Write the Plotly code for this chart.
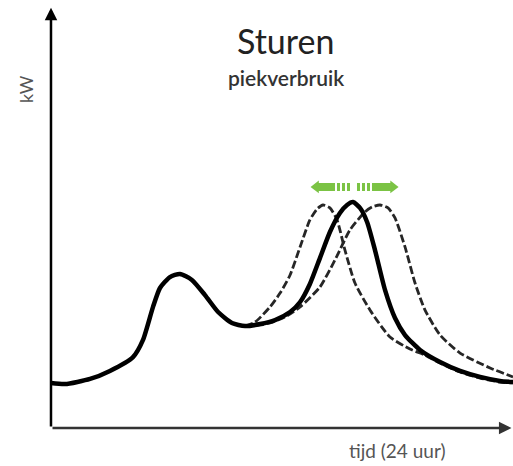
import plotly.graph_objects as go

# solid curve: normal load profile (hours, kW)
solid_t = [0.0, 0.73, 2.03, 3.06, 4.26, 4.78, 5.30, 5.66, 6.18, 6.70, 7.32, 8.00, 8.68,
           9.40, 10.08, 10.86, 11.64, 12.42, 12.94, 13.45, 13.97, 14.49, 15.01, 15.38,
           15.69, 16.05, 16.42, 16.83, 17.35, 17.87, 18.39, 19.17, 20.21, 21.25, 22.29,
           23.32, 24.0]
solid_kw = [2.02, 1.97, 2.20, 2.56, 3.18, 3.95, 5.43, 6.28, 6.77, 6.91, 6.64, 5.96, 5.20,
            4.71, 4.57, 4.66, 4.84, 5.20, 5.65, 6.46, 7.62, 8.79, 9.64, 10.0,
            10.13, 9.87, 9.24, 7.98, 6.19, 4.93, 4.17, 3.50, 2.96, 2.56, 2.29,
            2.11, 2.06]

# dashed: peak shifted earlier
early_t = [10.08, 10.60, 11.38, 11.90, 12.42, 12.94, 13.45, 13.82, 14.13, 14.49, 14.86,
           15.27, 15.79, 16.57, 17.61, 18.65, 19.43, 20.21, 21.25, 22.29, 23.32, 24.0]
early_kw = [4.57, 4.75, 5.43, 6.05, 6.86, 8.12, 9.33, 9.82, 10.0, 9.87, 9.33,
            7.98, 6.50, 5.29, 4.08, 3.54, 3.27, 2.91, 2.51, 2.24, 2.06, 2.02]

# dashed: peak shifted later
late_t = [10.08, 10.86, 11.38, 12.16, 12.94, 13.97, 14.75, 15.53, 16.31, 16.68, 17.09,
          17.51, 17.87, 18.39, 18.91, 19.43, 20.21, 21.25, 22.81, 24.0]
late_kw = [4.57, 4.62, 4.71, 4.98, 5.43, 6.32, 7.53, 8.88, 9.69, 9.91, 10.0,
           9.87, 9.42, 8.12, 6.50, 5.29, 4.17, 3.36, 2.69, 2.29]

# green shift arrow
arrow_t = [13.87, 17.66]
arrow_heads_t = [13.77, 17.77]
arrow_kw = 10.81

X_RANGE = [-2.649, 24.0]
Y_RANGE = [-1.704, 19.193]
GREEN = '#7bc344'
FONT = 'Lato'

fig = go.Figure()

for t, kw in [(early_t, early_kw), (late_t, late_kw)]:
    fig.add_trace(go.Scatter(x=t, y=kw, mode='lines',
                             line=dict(color='#262626', width=2.8, dash='8px,3px',
                                       shape='spline', smoothing=0.6)))

fig.add_trace(go.Scatter(x=solid_t, y=solid_kw, mode='lines',
                         line=dict(color='black', width=4.5, shape='spline', smoothing=0.6)))

fig.add_trace(go.Scatter(x=arrow_t, y=[arrow_kw] * 2, mode='lines',
                         line=dict(color=GREEN, width=8,
                                   dash='17px,2px,3px,2px,3px,2px,3px,7px,3px,2px,3px,2px,3px,2px,19px,100px')))
fig.add_trace(go.Scatter(x=arrow_heads_t, y=[arrow_kw] * 2, mode='markers',
                         marker=dict(symbol=['triangle-left', 'triangle-right'], size=11,
                                     color=GREEN)))

# axes drawn as arrows
fig.add_annotation(x=0, y=Y_RANGE[1] - 0.35, ax=0, ay=0, xref='x', yref='y',
                   axref='x', ayref='y', text='', showarrow=True,
                   arrowhead=2, arrowsize=1, arrowwidth=2.5, arrowcolor='black')
fig.add_annotation(x=23.92, y=0, ax=0, ay=0, xref='x', yref='y',
                   axref='x', ayref='y', text='', showarrow=True,
                   arrowhead=2, arrowsize=1, arrowwidth=2.5, arrowcolor='#333333')

labels = [
    ('Sturen', 0.5575, 0.914, 0, dict(family=FONT, size=34, color='#222222')),
    ('piekverbruik', 0.5575, 0.833, 0, dict(family=FONT, size=21, color='#333333', weight=600)),
    ('kW', 0.0507, 0.809, -90, dict(family=FONT, size=18, color='#555555')),
    ('tijd (24 uur)', 0.774, 0.034, 0, dict(family=FONT, size=19, color='#555555')),
]
for text, x, y, angle, font in labels:
    fig.add_annotation(text=text, x=x, y=y, xref='paper', yref='paper', textangle=angle,
                       xanchor='center', yanchor='middle', showarrow=False, font=font)

fig.update_layout(width=513, height=466, margin=dict(l=0, r=0, t=0, b=0),
                  plot_bgcolor='white', paper_bgcolor='white', showlegend=False,
                  xaxis=dict(range=X_RANGE, visible=False, fixedrange=True),
                  yaxis=dict(range=Y_RANGE, visible=False, fixedrange=True))

fig.write_html("out.html", config={'displayModeBar': False},
               post_script="document.body.style.margin='0';")
